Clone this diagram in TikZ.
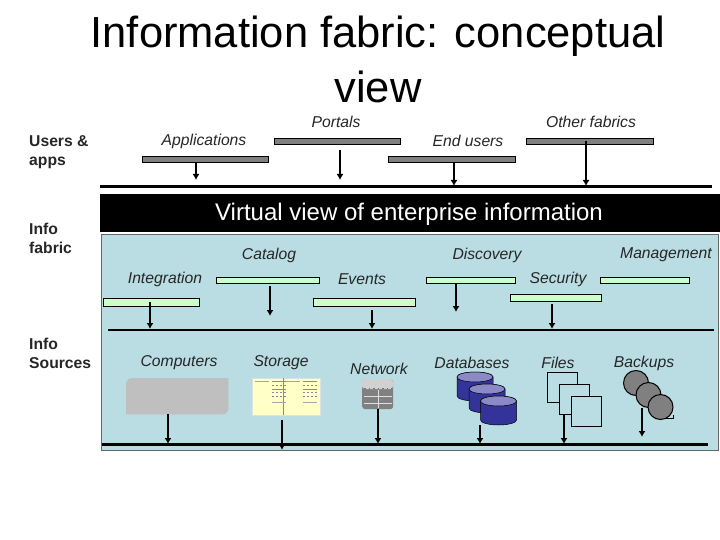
\documentclass[tikz,border=0pt]{standalone}
\usepackage{fontspec}
\setmainfont{Liberation Sans}
\usetikzlibrary{arrows.meta}
\definecolor{panel}{HTML}{B9DDE2}
\definecolor{greenbar}{HTML}{CCFFCC}
\definecolor{greybar}{HTML}{808080}
\definecolor{dbside}{HTML}{333399}
\definecolor{dbtop}{HTML}{8A8AC8}
\definecolor{paper}{HTML}{FFFFC8}
\tikzset{
 x=1pt,y=-1pt,
 bar/.style={draw=black,line width=0.5pt,inner sep=0pt,minimum height=#1,anchor=north west},
 lab/.style={font=\fontsize{15.7}{18}\selectfont\itshape,inner sep=0pt,text=black!85},
 side/.style={font=\fontsize{15.7}{19}\selectfont\bfseries,align=left,anchor=north west,inner sep=0pt,text=black!85},
 arr/.style={-{Latex[length=6pt,width=7pt]},line width=1.5pt},
 rule/.style={line width=2.6pt}
}
\newcommand{\dbcyl}[2]{%
  \draw[black,line width=0.5pt,fill=dbside] (#1-18,#2+5) -- (#1-18,#2+24) arc[start angle=180,end angle=360,x radius=18pt,y radius=5pt] -- (#1+18,#2+5) arc[start angle=0,end angle=180,x radius=18pt,y radius=5pt] -- cycle;
  \draw[black,line width=0.5pt,fill=dbtop] (#1,#2+5) ellipse[x radius=18pt,y radius=5pt];
}
\begin{document}
\begin{tikzpicture}
\useasboundingbox (0,0) rectangle (720,540);
\fill[white] (0,0) rectangle (720,540);
\node[font=\fontsize{43.5}{55}\selectfont,align=center] (title) at (378,59) {Information fabric: conceptual\\view};
\node[side] (users) at (29,135) {Users \&\\apps};
\node[side] (fabric) at (29,223) {Info\\fabric};
\node[side] (sources) at (29,338) {Info\\Sources};
\node[draw=black!60,fill=panel,line width=0.6pt,minimum width=617.5pt,minimum height=216pt,inner sep=0pt,anchor=north west] (panel) at (100.5,234) {};
\node[fill=black,text=white,minimum width=620pt,minimum height=38pt,inner sep=0pt,anchor=north west] (virtual) at (100,194) {};
\node[text=white,font=\fontsize{24}{28}\selectfont,inner sep=0pt] (vtext) at (409,214.5) {Virtual view of enterprise information};
% top bars
\foreach \n/\x/\y/\w in {app/142/156/126,por/274/138/126,end/388/156/127,oth/526/138/127}
  \node[bar=6.5pt,fill=greybar,minimum width=\w pt] (\n) at (\x,\y) {};
\node[lab] (lapp) at (204,141) {Applications};
\node[lab] (lpor) at (336,122) {Portals};
\node[lab] (lend) at (468,141) {End users};
\node[lab] (loth) at (591,122) {Other fabrics};
% green bars
\foreach \n/\x/\y/\w/\h in {cat/216/276.5/102.5/6.5,int/102.5/298/96/8,eve/312.5/298/102/8,dis/426/276.5/88.5/6.5,sec/510/294/90.5/6.5,man/600/276.5/88.5/6.5}
  \node[bar=\h pt,fill=greenbar,minimum width=\w pt] (\n) at (\x,\y) {};
\node[lab] (lcat) at (269,255) {Catalog};
\node[lab] (lint) at (165,279) {Integration};
\node[lab] (leve) at (362,279) {Events};
\node[lab] (ldis) at (487,255) {Discovery};
\node[lab] (lsec) at (558,279) {Security};
\node[lab] (lman) at (666,255) {Management};
% rules
\coordinate (r1a) at (100,186.5); \coordinate (r1b) at (712,186.5);
\draw[rule] (r1a) -- (r1b);
\coordinate (r2a) at (108,330); \coordinate (r2b) at (714,330);
\draw[rule] (r2a) -- (r2b);
\coordinate (r3a) at (102,444.5); \coordinate (r3b) at (708,444.5);
\draw[rule] (r3a) -- (r3b);
% source labels
\node[lab] (lcom) at (179,363) {Computers};
\node[lab] (lsto) at (281,363) {Storage};
\node[lab] (lnet) at (379,369) {Network};
\node[lab] (ldb) at (472,363) {Databases};
\node[lab] (lfil) at (558,363) {Files};
\node[lab] (lbak) at (644,363) {Backups};
% computers
\node[minimum width=102pt,minimum height=36pt,inner sep=0pt,anchor=north west] (comp) at (126,378) {};
\fill[black!25] (comp.south west) [rounded corners=6pt] -- (comp.north west) [sharp corners] -- (comp.north east) [rounded corners=6pt] -- (comp.south east) [sharp corners] -- cycle;
% storage
\node[fill=paper,draw=black!12,line width=0.3pt,minimum width=68pt,minimum height=37pt,inner sep=0pt,anchor=north west] (stor) at (252,378) {};
\draw[black!45,line width=0.4pt] (283,378) -- (283,415);
\foreach \x in {255,285.5}{
  \draw[black!35,line width=0.5pt] (\x,381.5) -- +(14,0);
  \draw[black!45,line width=0.6pt,dash pattern=on 2pt off 2pt] (\x+17,385) -- +(14,0) (\x+17,392) -- +(14,0);
  \draw[black!45,line width=0.6pt] (\x+17,381.5) -- +(14,0) (\x+17,389) -- +(14,0);
  \draw[black!50,line width=0.6pt,dash pattern=on 2pt off 2pt] (\x+17,396) -- +(14,0);
  \draw[black!35,line width=0.5pt] (\x+17,402) -- +(14,0);
}
% network
\node[fill=black!50,rounded corners=3pt,minimum width=31pt,minimum height=30pt,inner sep=0pt,anchor=north west] (net) at (362,379) {};
\fill[black!18,rounded corners=3pt] (362,389) -- (362,379) -- (393,379) -- (393,389) -- cycle;
\draw[black!55,line width=0.6pt,dash pattern=on 1.5pt off 3pt] (364,388) -- (392,388);
\draw[black!12,line width=0.5pt] (364,396) -- (392,396) (364,403) -- (392,403) (378,390) -- (378,408);
% databases
\dbcyl{475}{372}
\dbcyl{487}{384}
\dbcyl{498.5}{396}
\coordinate (db3) at (480,425);
% files
\foreach \n/\x/\y in {f1/546.5/372,f2/558.5/384,f3/570.5/396}
  \node[draw=black,fill=panel,line width=0.6pt,minimum width=30pt,minimum height=30pt,inner sep=0pt,anchor=north west] (\n) at (\x,\y) {};
% backups
\draw[black,line width=0.8pt] (664,418.5) -- (673,418.5) -- (673,415);
\foreach \n/\x/\y in {b1/636/383,b2/648.5/395,b3/660.5/407}
  \node[circle,draw=black,fill=black!50,line width=1pt,minimum size=25pt,inner sep=0pt] (\n) at (\x,\y) {};
% arrows
\coordinate (a1) at (196,180); \draw[arr] (app.south -| a1) -- (a1);
\coordinate (a2) at (340,180); \coordinate (a2s) at (340,150); \draw[arr] (a2s) -- (a2);
\coordinate (a3) at (454,186); \draw[arr] (end.south -| a3) -- (a3);
\coordinate (a4) at (586,186); \draw[arr] (oth.center -| a4) -- (a4);
\coordinate (a5) at (150,329); \draw[arr] (int.center -| a5) -- (a5);
\coordinate (a6) at (270,316); \coordinate (a6s) at (270,286); \draw[arr] (a6s) -- (a6);
\coordinate (a7) at (372,329); \coordinate (a7s) at (372,310); \draw[arr] (a7s) -- (a7);
\coordinate (a8) at (456,312); \draw[arr] (dis.south -| a8) -- (a8);
\coordinate (a9) at (552,329); \coordinate (a9s) at (552,304); \draw[arr] (a9s) -- (a9);
\coordinate (b1e) at (168,444); \draw[arr] (comp.south -| b1e) -- (b1e);
\coordinate (b2e) at (282,450); \coordinate (b2s) at (282,420); \draw[arr] (b2s) -- (b2e);
\coordinate (b3e) at (378,444); \draw[arr] (net.south -| b3e) -- (b3e);
\coordinate (b4e) at (480,444); \draw[arr] (db3) -- (b4e);
\coordinate (b5e) at (564,444); \draw[arr] (f2.south -| b5e) -- (b5e);
\coordinate (b6e) at (642,437); \draw[arr] (b2.south -| b6e) -- (b6e);
\end{tikzpicture}
\end{document}
